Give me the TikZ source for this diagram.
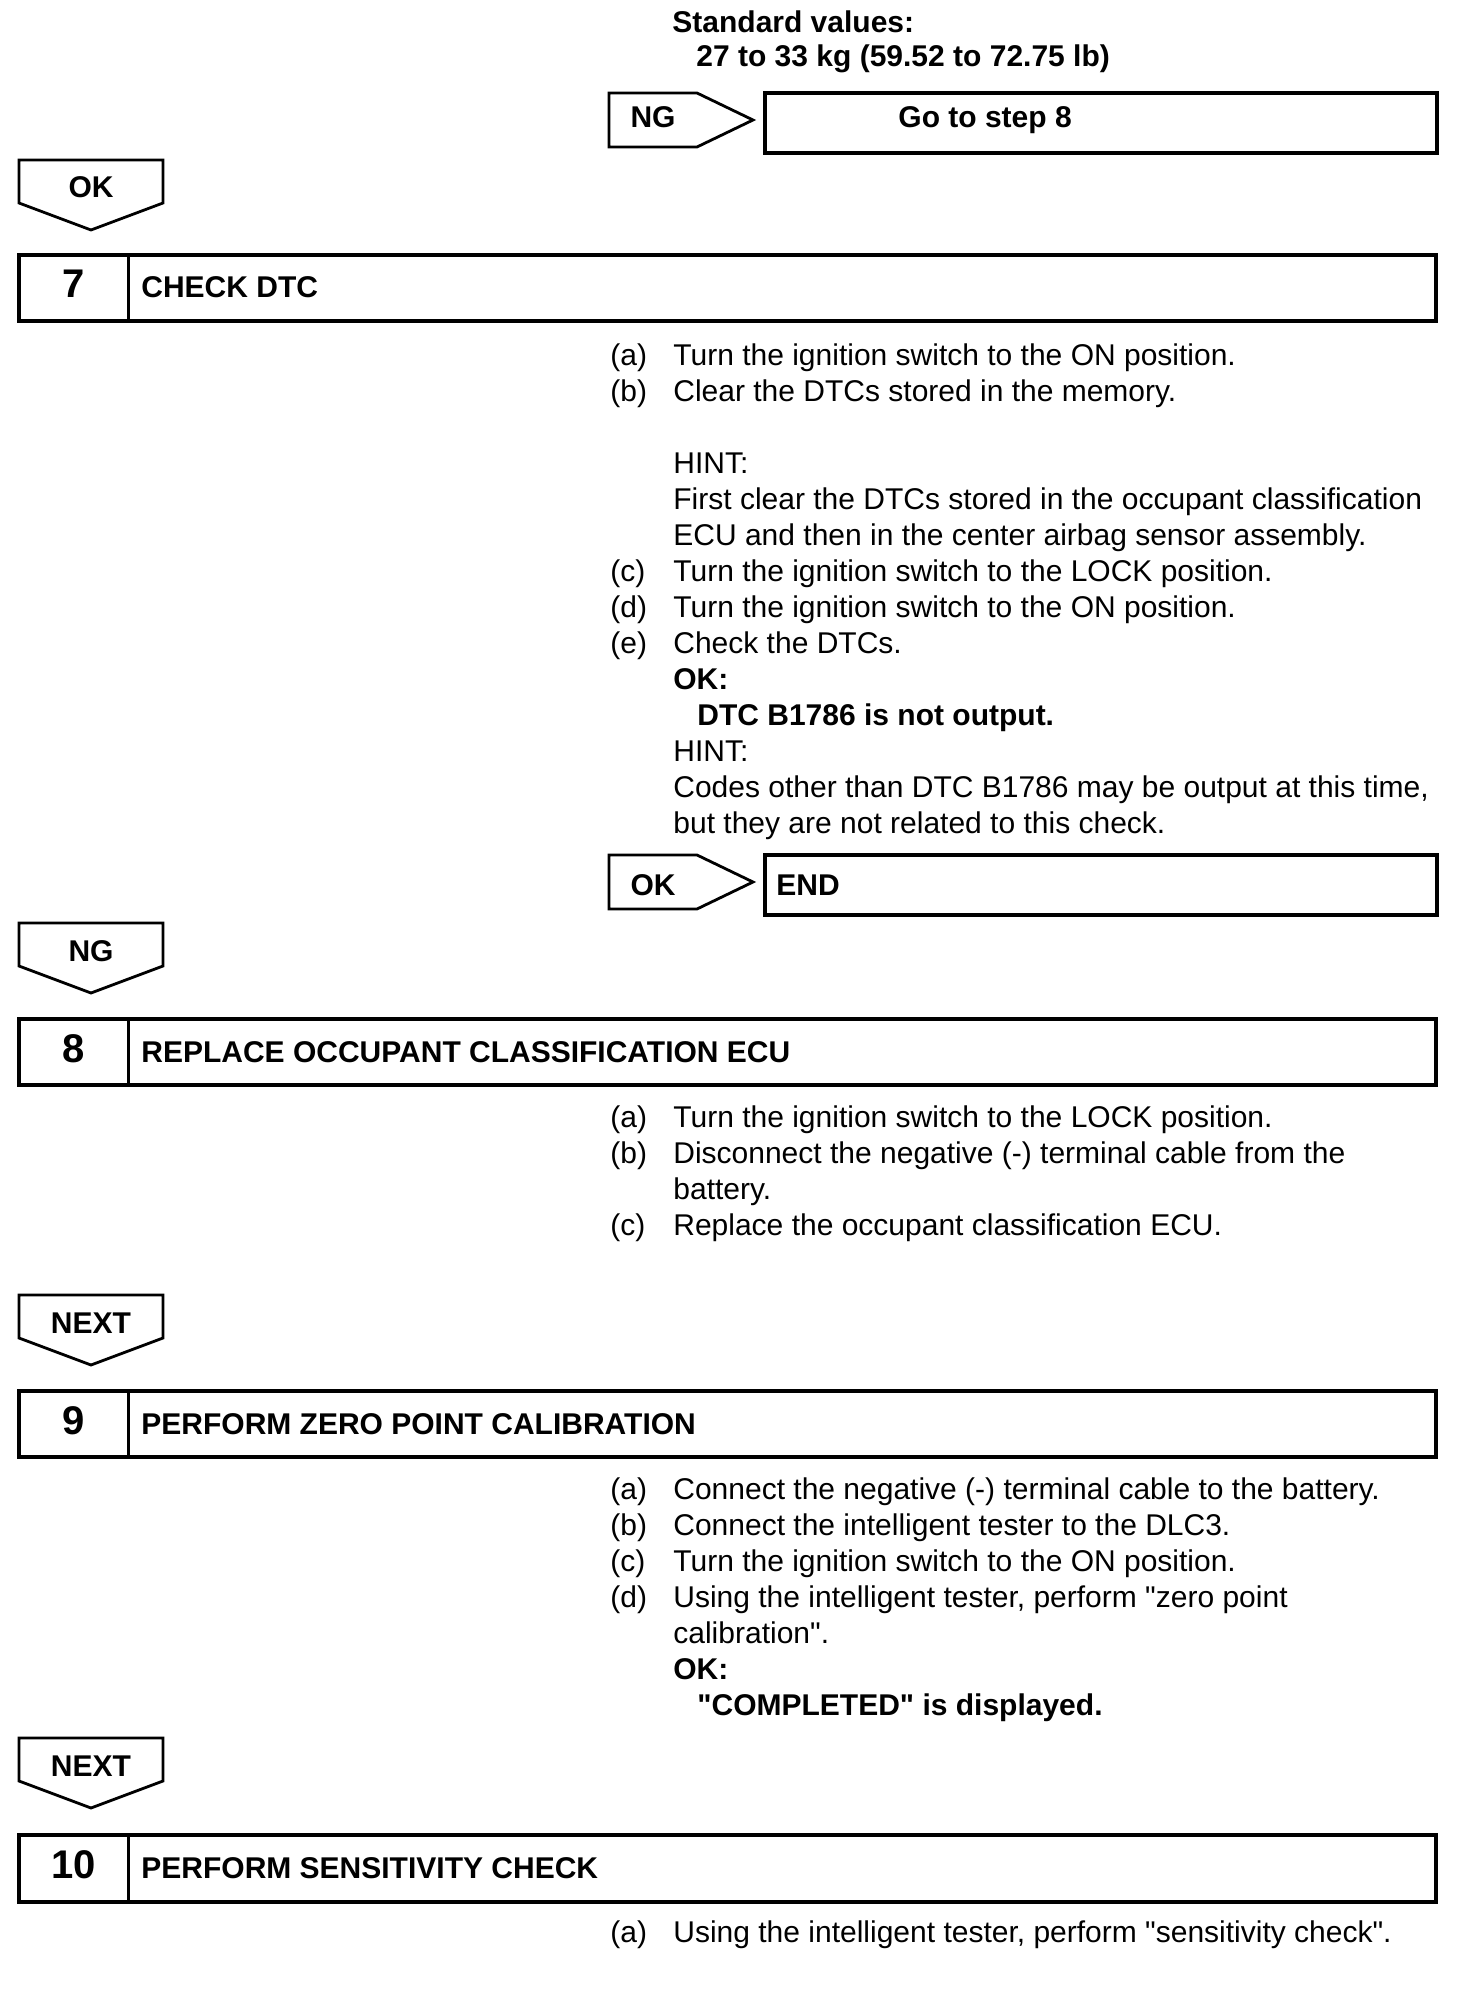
\documentclass[tikz,border=0pt]{standalone}
\usepackage{fontspec}
\setmainfont{Liberation Sans}[Ligatures=TeXOff]

\begin{document}
\begin{tikzpicture}[x=0.5pt,y=-0.5pt,
    every node/.style={inner sep=0pt,font=\fontsize{15pt}{18pt}\selectfont},
    boldtext/.style={font=\fontsize{15pt}{18pt}\selectfont\bfseries},
    stepnum/.style={font=\fontsize{20pt}{24pt}\selectfont\bfseries},
    stepbox/.style={line width=2pt},
    sepline/.style={line width=1.5pt},
    tagline/.style={line width=1.4pt,line join=miter}]

    % Page frame of the reference (pixel units)
    \useasboundingbox (0,0) rectangle (1456,2006);

    % Standard values at the top
    \node[anchor=base west] (stdval) at (672,33) {\begin{tabular}[t]{@{}l@{}}
        \textbf{Standard values:}\\[-1pt]
        \hspace*{12pt}\textbf{27 to 33 kg (59.52 to 72.75 lb)}
    \end{tabular}};

    % NG -> Go to step 8
    \draw[tagline] (609,93) -- (697,93) -- (753,120) -- (697,147) -- (609,147) -- cycle;
    \node[boldtext,anchor=base] (ngtag) at (653,128) {NG};
    \draw[stepbox] (765,93) rectangle (1437,153);
    \node[boldtext,anchor=base west] (gostep) at (898,128) {Go to step 8};

    % OK -> END
    \draw[tagline] (609,855) -- (697,855) -- (753,882) -- (697,909) -- (609,909) -- cycle;
    \node[boldtext,anchor=base] (oktag) at (653,895) {OK};
    \draw[stepbox] (765,855) rectangle (1437,915);
    \node[boldtext,anchor=base west] (endnode) at (776,895) {END};

    % Down tags between the steps
    \foreach \y/\lbl/\nm in {160/OK/ok7, 923/NG/ng8, 1295/NEXT/next9, 1738/NEXT/next10} {
        \draw[tagline] (19,\y) -- (163,\y) -- (163,\y+43) -- (91,\y+70) -- (19,\y+43) -- cycle;
        \node[boldtext,anchor=base] (\nm) at (91,\y+38) {\lbl};
    }

    % Step header boxes
    \foreach \top/\bot/\num/\title in {255/321/7/CHECK DTC,
            1019/1085/8/REPLACE OCCUPANT CLASSIFICATION ECU,
            1391/1457/9/PERFORM ZERO POINT CALIBRATION,
            1835/1902/10/PERFORM SENSITIVITY CHECK} {
        \draw[stepbox] (19,\top) rectangle (1436,\bot);
        \draw[sepline] (128,\top) -- (128,\bot);
        \node[stepnum,anchor=base] (num\num) at (74,{(\top+\bot)/2+10}) {\num};
        \node[boldtext,anchor=base west] (title\num) at (141,{(\top+\bot)/2+10}) {\title};
    }

    % Step 7 instructions
    \node[anchor=base west] (list7) at (610,365) {\begin{tabular}[t]{@{}p{31.5pt}@{}l@{}}
        (a) & Turn the ignition switch to the ON position.\\
        (b) & Clear the DTCs stored in the memory.\\
            & \\
            & HINT:\\
            & First clear the DTCs stored in the occupant classification\\
            & ECU and then in the center airbag sensor assembly.\\
        (c) & Turn the ignition switch to the LOCK position.\\
        (d) & Turn the ignition switch to the ON position.\\
        (e) & Check the DTCs.\\
            & \textbf{OK:}\\
            & \hspace*{12pt}\textbf{DTC B1786 is not output.}\\
            & HINT:\\
            & Codes other than DTC B1786 may be output at this time,\\
            & but they are not related to this check.
    \end{tabular}};

    % Step 8 instructions
    \node[anchor=base west] (list8) at (610,1127) {\begin{tabular}[t]{@{}p{31.5pt}@{}l@{}}
        (a) & Turn the ignition switch to the LOCK position.\\
        (b) & Disconnect the negative (-) terminal cable from the\\
            & battery.\\
        (c) & Replace the occupant classification ECU.
    \end{tabular}};

    % Step 9 instructions
    \node[anchor=base west] (list9) at (610,1499) {\begin{tabular}[t]{@{}p{31.5pt}@{}l@{}}
        (a) & Connect the negative (-) terminal cable to the battery.\\
        (b) & Connect the intelligent tester to the DLC3.\\
        (c) & Turn the ignition switch to the ON position.\\
        (d) & Using the intelligent tester, perform "zero point\\
            & calibration".\\
            & \textbf{OK:}\\
            & \hspace*{12pt}\textbf{"COMPLETED" is displayed.}
    \end{tabular}};

    % Step 10 instructions
    \node[anchor=base west] (list10) at (610,1942) {\begin{tabular}[t]{@{}p{31.5pt}@{}l@{}}
        (a) & Using the intelligent tester, perform "sensitivity check".
    \end{tabular}};

\end{tikzpicture}
\end{document}
